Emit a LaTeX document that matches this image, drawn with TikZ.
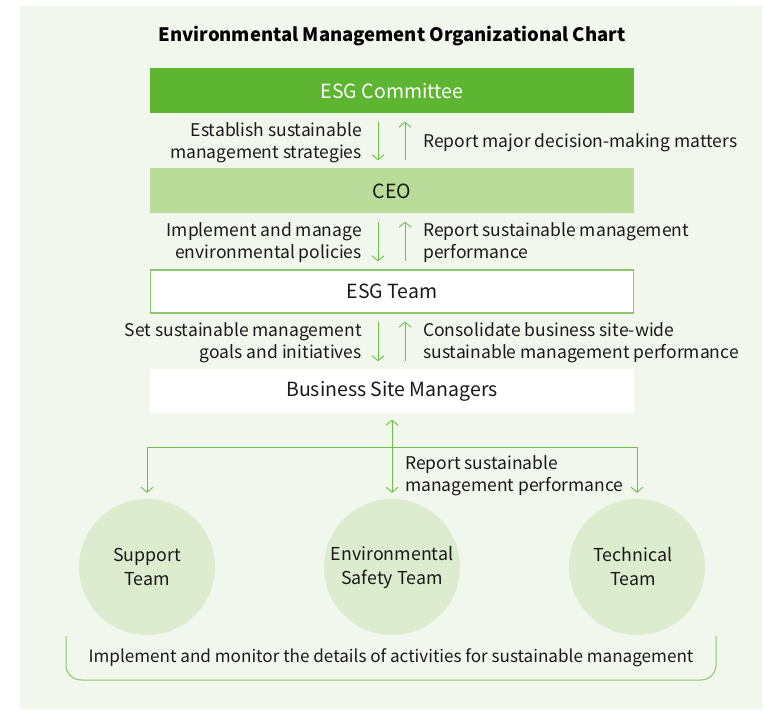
\documentclass[tikz,border=0pt]{standalone}
\usepackage{fontspec}
\setmainfont{Noto Sans CJK KR}
\usetikzlibrary{arrows.meta,calc}
\definecolor{panel}{HTML}{F1F7EC}
\definecolor{dgreen}{HTML}{5DB531}
\definecolor{lgreen}{HTML}{B9DC9A}
\definecolor{cgreen}{HTML}{DDEBCF}
\definecolor{agreen}{HTML}{6CC04A}
\definecolor{bgreen}{HTML}{8CC96A}
\definecolor{txt}{HTML}{1A1A1A}
\tikzset{
  box/.style={minimum width=484pt,minimum height=45pt,inner sep=0pt,font=\fontsize{19.5}{22}\selectfont,text=txt},
  circ/.style={circle,fill=cgreen,minimum size=136pt,inner sep=0pt,align=center,font=\fontsize{17.8}{24}\selectfont,text=txt},
  arr/.style={draw=agreen,line width=0.9pt,-{Straight Barb[length=5pt,width=12pt]}},
  arrr/.style={draw=agreen,line width=0.9pt,{Straight Barb[length=5pt,width=12pt]}-{Straight Barb[length=5pt,width=12pt]}},
  lbl/.style={font=\fontsize{17.5}{22.5}\selectfont,text=txt,inner sep=0pt},
}
\begin{document}
\begin{tikzpicture}[x=1pt,y=-1pt]
\useasboundingbox (0,0) rectangle (764,711);
\fill[panel] (20,6) rectangle (762,709);
\node[font=\bfseries\fontsize{18.5}{20}\selectfont,text=black] (title) at (392,36) {Environmental Management Organizational Chart};
\node[box,fill=dgreen,text=white] (com) at (392,91) {ESG Committee};
\node[box,fill=lgreen] (ceo) at (392,191) {CEO};
\node[box,fill=white,draw=bgreen,line width=1.2pt,minimum width=483pt,minimum height=43pt] (team) at (392,291.5) {ESG Team};
\node[box,fill=white,minimum height=44pt] (bsm) at (392,391.5) {Business Site Managers};
% arrows between boxes
\foreach \a/\b in {com/ceo,ceo/team,team/bsm}{
  \draw[arr,shorten <=8pt,shorten >=8pt] ([xshift=-14pt]\a.south) -- ([xshift=-14pt]\b.north);
  \draw[arr,shorten <=8pt,shorten >=8pt] ([xshift=13pt]\b.north) -- ([xshift=13pt]\a.south);
}
\node[lbl,align=right,anchor=east] (l1) at (362,142.5) {Establish sustainable\\management strategies};
\node[lbl,anchor=west] (r1) at (423,142.5) {Report major decision-making matters};
\node[lbl,align=right,anchor=east] (l2) at (362,242.5) {Implement and manage\\environmental policies};
\node[lbl,align=left,anchor=west] (r2) at (423,242.5) {Report sustainable management\\performance};
\node[lbl,align=right,anchor=east] (l3) at (362,342.5) {Set sustainable management\\goals and initiatives};
\node[lbl,align=left,anchor=west] (r3) at (423,342.5) {Consolidate business site-wide\\sustainable management performance};
% teams
\node[circ] (sup) at (147,567) {Support\\Team};
\node[circ] (env) at (392,567) {Environmental\\Safety Team};
\node[circ] (tec) at (637,567) {\hspace*{-8pt}Technical\\\hspace*{-8pt}Team};
\coordinate (j) at (392,447);
\draw[arrr,shorten <=6pt,shorten >=6pt] (bsm.south) -- (env.north);
\draw[arr,shorten >=6pt] (j) -| (sup.north);
\draw[arr,shorten >=6pt] (j) -| (tec.north);
\node[lbl,align=left,anchor=west] (r4) at (405,475.5) {Report sustainable\\management performance};
% bracket
\draw[bgreen,line width=1pt,rounded corners=15pt] (66,636) -- (66,680) -- (716,680) -- (716,636);
\node[lbl,font=\fontsize{17.1}{22}\selectfont] (impl) at (391,658) {Implement and monitor the details of activities for sustainable management};
\end{tikzpicture}
\end{document}
